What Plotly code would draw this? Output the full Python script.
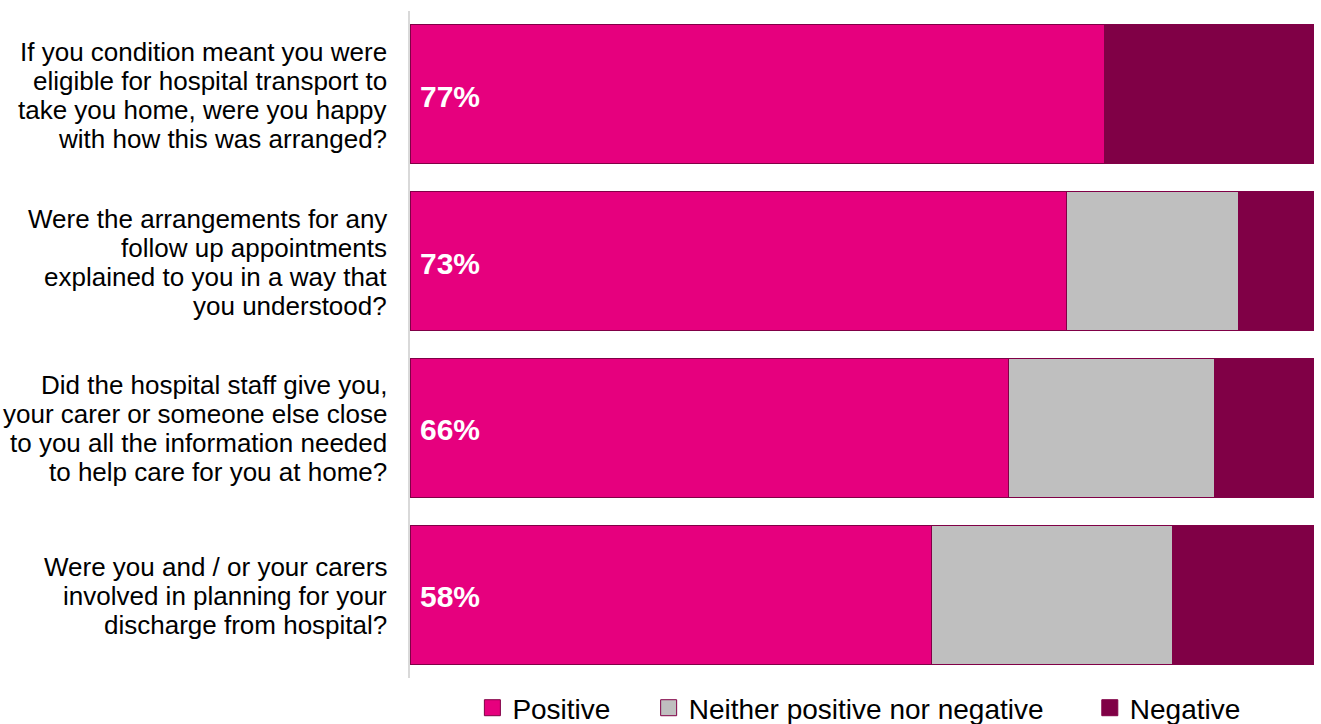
import plotly.graph_objects as go

# ---- data ----
questions = [
    ["If you condition meant you were", "eligible for hospital transport to",
     "take you home, were you happy", "with how this was arranged?"],
    ["Were the arrangements for any", "follow up appointments",
     "explained to you in a way that", "you understood?"],
    ["Did the hospital staff give you,", "your carer or someone else close",
     "to you all the information needed", "to help care for you at home?"],
    ["Were you and / or your carers", "involved in planning for your",
     "discharge from hospital?"],
]
positive = [76.8, 72.6, 66.2, 57.7]
neither = [0.0, 19.0, 22.8, 26.6]
negative = [23.2, 8.4, 11.0, 15.7]
series_names = ["Positive", "Neither positive nor negative", "Negative"]
series_colors = ["#E6007E", "#BFBFBF", "#800046"]

cats = [" ".join(q) for q in questions]

FONT = "Liberation Sans, Arial, sans-serif"
EDGE = "#800046"

fig = go.Figure()
legend_ids = ["legend", "legend2", "legend3"]
for name, vals, col in zip(series_names, [positive, neither, negative], series_colors):
    fig.add_trace(go.Bar(
        y=cats, x=vals, name=name, orientation="h",
        marker=dict(color=col, line=dict(color=EDGE, width=1)),
        showlegend=False, hoverinfo="x+name",
    ))
# legend entries (square swatches)
for name, col, lg in zip(series_names, series_colors, legend_ids):
    fig.add_trace(go.Scatter(
        x=[None], y=[None], mode="markers", name=name, legend=lg,
        marker=dict(symbol="square", size=16, color=col,
                    line=dict(color=EDGE, width=1)),
        showlegend=True,
    ))

annotations = []
LINE = 29.0
for cat, lines in zip(cats, questions):
    n = len(lines)
    for i, ln in enumerate(lines):
        off = (i - (n - 1) / 2) * LINE
        annotations.append(dict(
            xref="paper", x=0, xshift=-21, xanchor="right",
            yref="y", y=cat, yshift=-off - 1, yanchor="middle",
            text=ln, showarrow=False,
            font=dict(family=FONT, size=26, color="#000000"),
        ))
for cat, v in zip(cats, positive):
    annotations.append(dict(
        xref="x", x=0, xshift=8, xanchor="left",
        yref="y", y=cat, yanchor="middle", yshift=-2,
        text=f"<b>{round(v)}%</b>", showarrow=False,
        font=dict(family=FONT, size=30, color="#FFFFFF"),
    ))

leg_common = dict(orientation="h", yanchor="middle", y=-0.045, xanchor="left",
                  font=dict(family=FONT, size=28, color="#000000"),
                  bgcolor="rgba(0,0,0,0)", borderwidth=0)

fig.update_layout(
    width=1321, height=724,
    margin=dict(l=410, r=7, t=11, b=46, autoexpand=False),
    paper_bgcolor="white", plot_bgcolor="white",
    barmode="stack", bargap=0.166,
    showlegend=True,
    legend=dict(x=0.069, **leg_common),
    legend2=dict(x=0.264, **leg_common),
    legend3=dict(x=0.752, **leg_common),
    xaxis=dict(range=[0, 100], visible=False, fixedrange=True),
    yaxis=dict(autorange="reversed", showticklabels=False, ticks="",
               showline=True, linecolor="#D9D9D9", linewidth=2,
               showgrid=False, zeroline=False),
    annotations=annotations,
    font=dict(family=FONT),
)

fig.write_html("out.html")
